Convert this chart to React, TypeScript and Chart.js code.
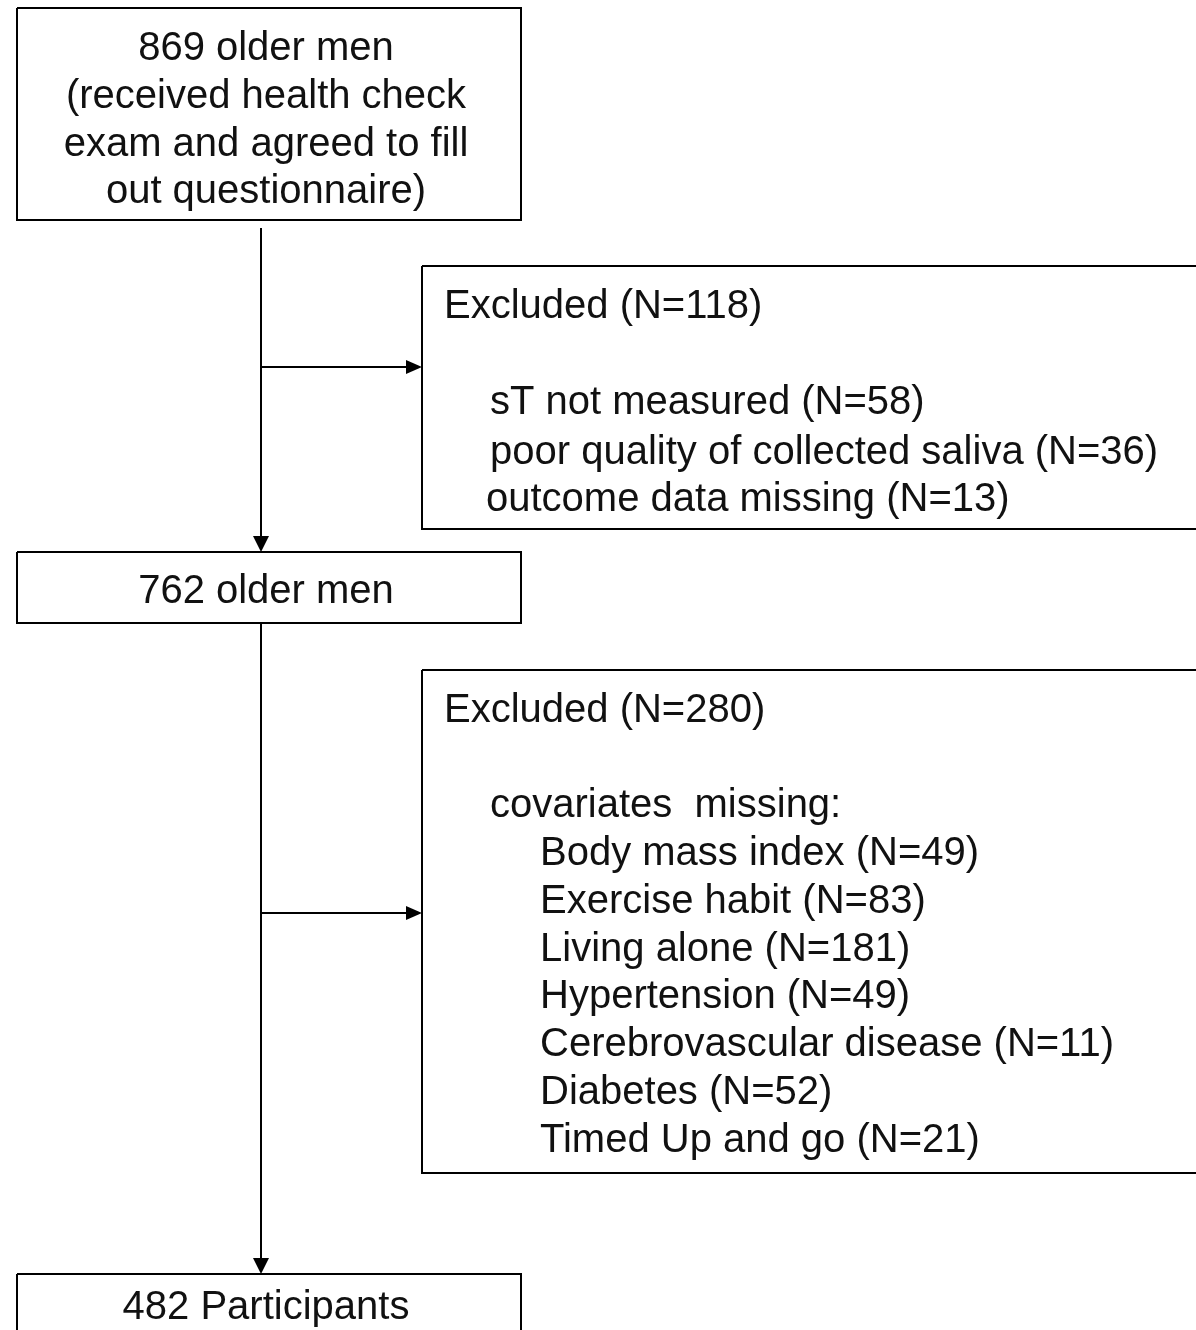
import React, { useEffect, useRef } from "react";
import { Chart, registerables } from "chart.js";

Chart.register(...registerables);

// ---- content (values) ----
const startCount = 869;
const afterFirstCount = 762;
const finalCount = 482;
const firstExcludedTotal = 118;
const firstExcludedReasons = ["sT not measured", "poor quality of collected saliva", "outcome data missing"];
const firstExcludedCounts = [58, 36, 13];
const secondExcludedTotal = 280;
const covariateLabels = [
  "Body mass index",
  "Exercise habit",
  "Living alone",
  "Hypertension",
  "Cerebrovascular disease",
  "Diabetes",
  "Timed Up and go",
];
const covariateCounts = [49, 83, 181, 49, 11, 52, 21];

// ---- layout (positions in canvas-unit coordinates) ----
const W = 1196;
const H = 1330;
const FONT = '40px "Liberation Sans", Arial, sans-serif';
const TEXT_DY = 2;
const boxStart = { l: 17, t: 8, r: 521, b: 220 };
const boxMid = { l: 17, t: 552, r: 521, b: 623 };
const boxEnd = { l: 17, t: 1274, r: 521, b: 1345 };
const boxEx1 = { l: 422, t: 266, r: 1215, b: 529 };
const boxEx2 = { l: 422, t: 670, r: 1215, b: 1173 };
const trunkX = 261;
const branch1Y = 367;
const branch2Y = 913;

type Box = { l: number; t: number; r: number; b: number };
const rect = (b: Box) => [
  { x: b.l, y: b.t },
  { x: b.r, y: b.t },
  { x: b.r, y: b.b },
  { x: b.l, y: b.b },
  { x: b.l, y: b.t },
];

type TextItem = { text: string; x: number; y: number; align: CanvasTextAlign };

const texts: TextItem[] = [
  { text: `${startCount} older men`, x: 266, y: 47, align: "center" },
  { text: "(received health check", x: 266, y: 95, align: "center" },
  { text: "exam and agreed to fill", x: 266, y: 143, align: "center" },
  { text: "out questionnaire)", x: 266, y: 190, align: "center" },
  { text: `${afterFirstCount} older men`, x: 266, y: 590, align: "center" },
  { text: `${finalCount} Participants`, x: 266, y: 1306, align: "center" },
  { text: `Excluded (N=${firstExcludedTotal})`, x: 444, y: 305, align: "left" },
  ...firstExcludedReasons.map((r, i) => ({
    text: `${r} (N=${firstExcludedCounts[i]})`,
    x: i === 2 ? 486 : 490,
    y: [401, 451, 498][i],
    align: "left" as CanvasTextAlign,
  })),
  { text: `Excluded (N=${secondExcludedTotal})`, x: 444, y: 709, align: "left" },
  { text: "covariates  missing:", x: 490, y: 804, align: "left" },
  ...covariateLabels.map((c, i) => ({
    text: `${c} (N=${covariateCounts[i]})`,
    x: 540,
    y: 852 + i * 47.8,
    align: "left" as CanvasTextAlign,
  })),
];

type Arrow = { x: number; y: number; dir: "down" | "right" };
const arrows: Arrow[] = [
  { x: trunkX, y: boxMid.t, dir: "down" },
  { x: trunkX, y: boxEnd.t, dir: "down" },
  { x: boxEx1.l, y: branch1Y, dir: "right" },
  { x: boxEx2.l, y: branch2Y, dir: "right" },
];

const lineDs = (data: { x: number; y: number }[]) => ({
  data,
  showLine: true,
  borderColor: "#000",
  borderWidth: 2,
  pointRadius: 0,
  fill: false,
  tension: 0,
});

const flowPlugin = {
  id: "flowText",
  afterDatasetsDraw(chart: any) {
    const ctx = chart.ctx as CanvasRenderingContext2D;
    const xs = chart.scales.x;
    const ys = chart.scales.y;
    ctx.save();
    ctx.fillStyle = "#000";
    for (const a of arrows) {
      const px = xs.getPixelForValue(a.x);
      const py = ys.getPixelForValue(a.y);
      ctx.beginPath();
      if (a.dir === "down") {
        ctx.moveTo(px, py);
        ctx.lineTo(px - 8, py - 16);
        ctx.lineTo(px + 8, py - 16);
      } else {
        ctx.moveTo(px, py);
        ctx.lineTo(px - 16, py - 7);
        ctx.lineTo(px - 16, py + 7);
      }
      ctx.closePath();
      ctx.fill();
    }
    ctx.font = FONT;
    ctx.textBaseline = "middle";
    ctx.fillStyle = "#111";
    for (const t of texts) {
      ctx.textAlign = t.align;
      ctx.fillText(t.text, xs.getPixelForValue(t.x), ys.getPixelForValue(t.y + TEXT_DY));
    }
    ctx.restore();
  },
};

export default function App() {
  const ref = useRef<HTMLCanvasElement | null>(null);
  useEffect(() => {
    if (!ref.current) return;
    const chart = new Chart(ref.current, {
      type: "scatter",
      data: {
        datasets: [
          lineDs(rect(boxStart)),
          lineDs(rect(boxMid)),
          lineDs(rect(boxEnd)),
          lineDs(rect(boxEx1)),
          lineDs(rect(boxEx2)),
          lineDs([{ x: trunkX, y: boxStart.b + 8 }, { x: trunkX, y: boxMid.t - 4 }]),
          lineDs([{ x: trunkX, y: boxMid.b }, { x: trunkX, y: boxEnd.t - 4 }]),
          lineDs([{ x: trunkX, y: branch1Y }, { x: boxEx1.l - 4, y: branch1Y }]),
          lineDs([{ x: trunkX, y: branch2Y }, { x: boxEx2.l - 4, y: branch2Y }]),
        ] as any,
      },
      options: {
        animation: false,
        responsive: true,
        maintainAspectRatio: false,
        layout: { padding: 0 },
        plugins: { legend: { display: false }, tooltip: { enabled: false } },
        scales: {
          x: { type: "linear", min: 0, max: W, display: false },
          y: { type: "linear", min: 0, max: H, reverse: true, display: false },
        },
      },
      plugins: [flowPlugin],
    });
    return () => chart.destroy();
  }, []);
  return (
    <div style={{ position: "absolute", left: 0, top: 0, width: W, height: H, background: "#fff" }}>
      <canvas ref={ref} />
    </div>
  );
}
